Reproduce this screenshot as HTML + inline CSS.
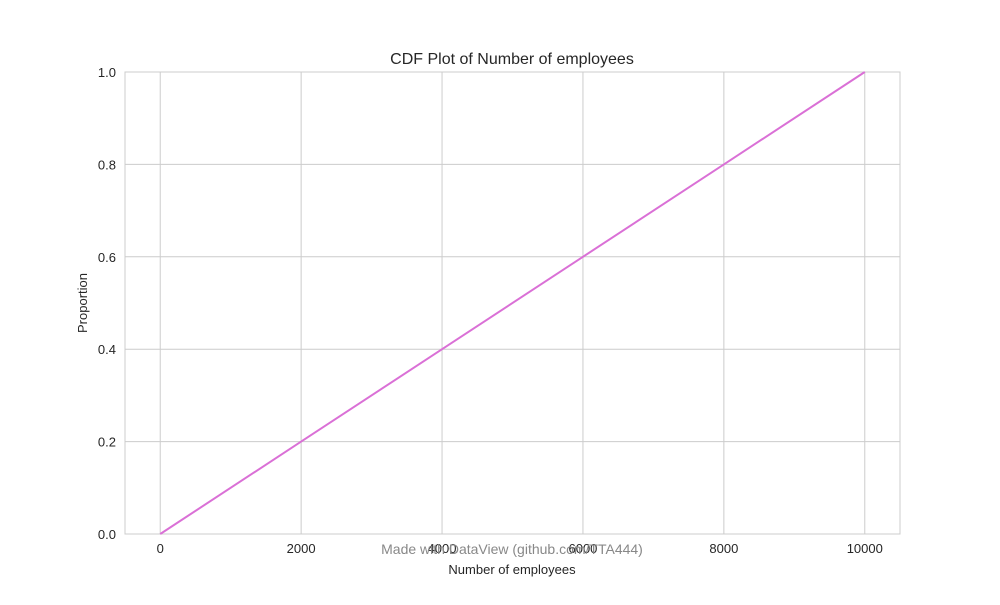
<!DOCTYPE html>
<html><head><meta charset="utf-8"><style>
body{margin:0;background:#fff;}
svg text{font-family:"Liberation Sans",Arial,sans-serif;}
</style></head><body>
<svg id="chart" width="1000" height="600" viewBox="0 0 1000 600">
<rect x="0" y="0" width="1000" height="600" fill="#fff"/>
<g id="grid"></g>
<rect x="125" y="72" width="775" height="462" fill="none" stroke="#cccccc" stroke-width="1"/>
<g id="ticks"></g>
<g id="series"></g>
<text x="512" y="64" text-anchor="middle" font-size="16" fill="#262626">CDF Plot of Number of employees</text>
<text x="512" y="554" text-anchor="middle" font-size="14" fill="#888">Made with DataView (github.com/TTA444)</text>
<text x="512" y="574" text-anchor="middle" font-size="13" fill="#262626">Number of employees</text>
<text x="87" y="303" text-anchor="middle" font-size="13" fill="#262626" transform="rotate(-90 87 303)">Proportion</text>
</svg>
<script>
const xValues=[0,2000,4000,6000,8000,10000];
const yValues=[0,0.2,0.4,0.6,0.8,1.0];
const xTicks=[0,2000,4000,6000,8000,10000];
const yTicks=[0,0.2,0.4,0.6,0.8,1.0];
const X0=125,X1=900,Y0=534,Y1=72,xmin=-500,xmax=10500;
const sx=v=>X0+(v-xmin)/(xmax-xmin)*(X1-X0);
const sy=v=>Y0-(v-0)/(1-0)*(Y0-Y1);
const NS="http://www.w3.org/2000/svg";
const grid=document.getElementById('grid'),ticks=document.getElementById('ticks'),series=document.getElementById('series');
function mk(t,a,p){const e=document.createElementNS(NS,t);for(const k in a)e.setAttribute(k,a[k]);p.appendChild(e);return e;}
xTicks.forEach(v=>{
 const l=mk('line',{x1:sx(v),x2:sx(v),y1:Y1,y2:Y0,stroke:'#cccccc'},grid);
 
 
 const t=mk('text',{x:sx(v),y:553,'text-anchor':'middle','font-size':13,fill:'#262626'},ticks);
 t.textContent=v;
 
 
});
yTicks.forEach(v=>{
 const l=mk('line',{x1:X0,x2:X1,y1:sy(v),y2:sy(v),stroke:'#cccccc'},grid);
 
 
 const t=mk('text',{x:116,y:sy(v)+5,'text-anchor':'end','font-size':13,fill:'#262626'},ticks);
 t.textContent=v.toFixed(1);
 
 
});
const pl=mk('polyline',{points:xValues.map((x,i)=>sx(x)+','+sy(yValues[i])).join(' '),fill:'none',stroke:'#da70d6','stroke-width':2},series);


</script>
</body></html>
